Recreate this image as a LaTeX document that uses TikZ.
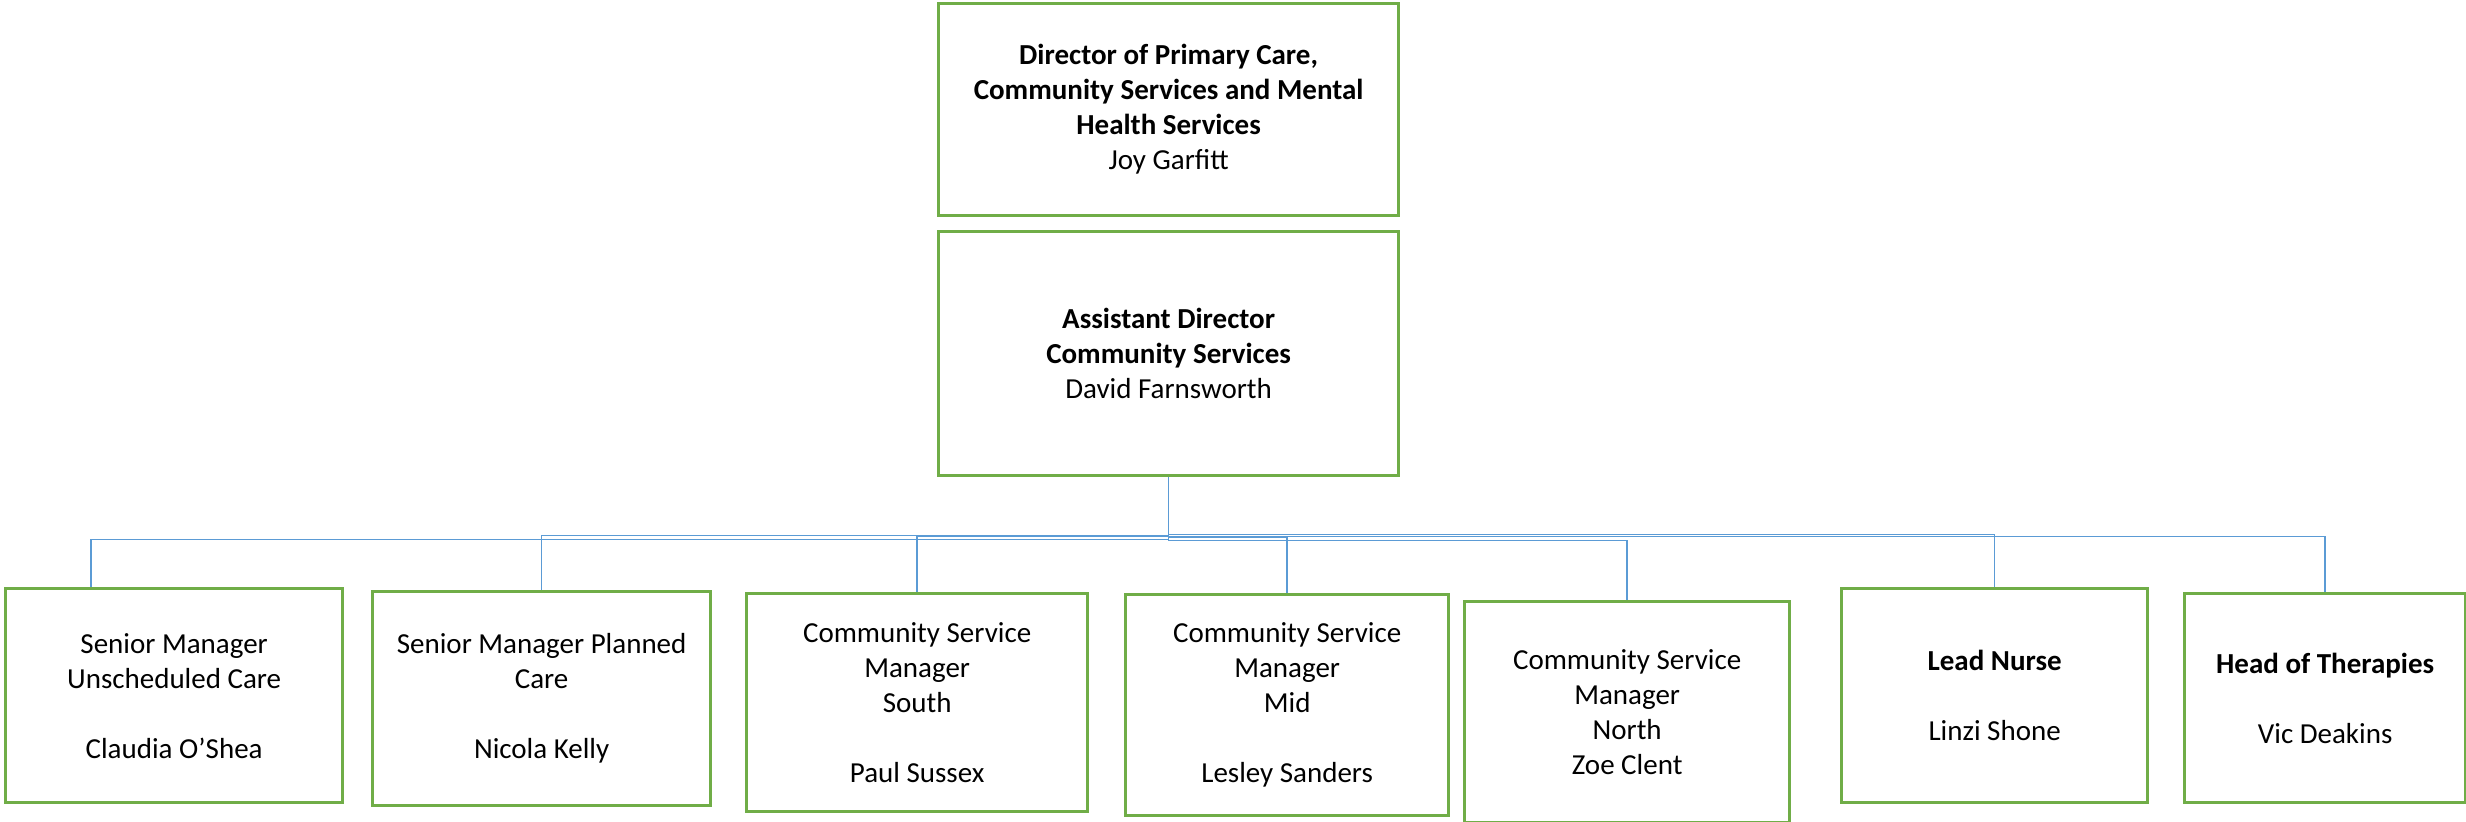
\documentclass[tikz,border=0pt]{standalone}
\usepackage{fontspec}
\setmainfont{Carlito}
\definecolor{boxgreen}{HTML}{70AD47}
\definecolor{connblue}{HTML}{5B9BD5}
\begin{document}
\begin{tikzpicture}[x=1pt,y=-1pt,
  orgbox/.style={draw=boxgreen,line width=3.3pt,inner sep=0pt,align=center,anchor=north west,font=\fontsize{29}{35}\selectfont},
  conn/.style={draw=connblue,line width=1.4pt}]
\useasboundingbox (0,0) rectangle (2466,822);
\node[orgbox,minimum width=460pt,minimum height=212pt] (dir) at (937,2)
  {\textbf{Director of Primary Care,}\\\textbf{Community Services and Mental}\\\textbf{Health Services}\\Joy Garfitt};
\node[orgbox,minimum width=460pt,minimum height=244pt] (ad) at (937,230)
  {\textbf{Assistant Director}\\\textbf{Community Services}\\David Farnsworth};
\node[orgbox,minimum width=337pt,minimum height=214pt] (b1) at (4,587)
  {Senior Manager\\Unscheduled Care\\[35pt]Claudia O’Shea};
\node[orgbox,minimum width=338pt,minimum height=214pt] (b2) at (371,590)
  {Senior Manager Planned\\Care\\[35pt]Nicola Kelly};
\node[orgbox,minimum width=341pt,minimum height=218pt] (b3) at (745,592)
  {Community Service\\Manager\\South\\[35pt]Paul Sussex};
\node[orgbox,minimum width=323pt,minimum height=221pt] (b4) at (1124,593)
  {Community Service\\Manager\\Mid\\[35pt]Lesley Sanders};
\node[orgbox,minimum width=325pt,minimum height=221pt] (b5) at (1463,600)
  {Community Service\\Manager\\North\\Zoe Clent};
\node[orgbox,minimum width=306pt,minimum height=214pt] (b6) at (1840,587)
  {\textbf{Lead Nurse}\\[35pt]Linzi Shone};
\node[orgbox,minimum width=281pt,minimum height=209pt] (b7) at (2183,592)
  {\textbf{Head of Therapies}\\[35pt]Vic Deakins};
\draw[conn] (ad.south) -- ++(0,62) -| ([xshift=-83pt]b1.north);
\draw[conn] (ad.south) -- ++(0,58) -| (b2.north);
\draw[conn] (ad.south) -- ++(0,59) -| (b3.north);
\draw[conn] (ad.south) -- ++(0,60) -| (b4.north);
\draw[conn] (ad.south) -- ++(0,63) -| (b5.north);
\draw[conn] (ad.south) -- ++(0,57) -| (b6.north);
\draw[conn] (ad.south) -- ++(0,59) -| (b7.north);
\end{tikzpicture}
\end{document}
